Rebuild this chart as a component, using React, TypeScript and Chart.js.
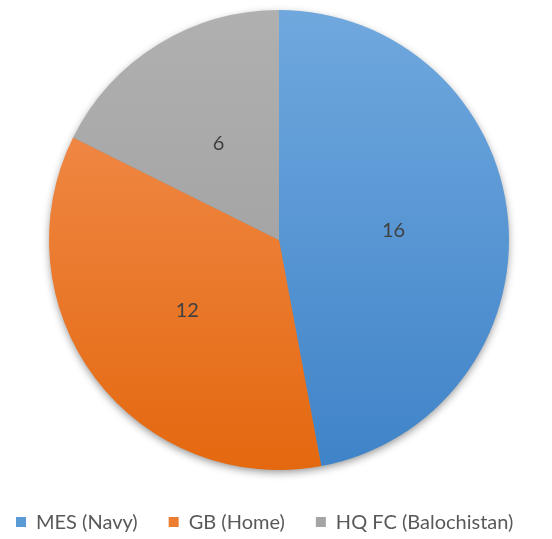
import React, { useEffect, useRef } from "react";
import { Chart, registerables } from "chart.js";

Chart.register(...registerables);

const categories = ["MES (Navy)", "GB (Home)", "HQ FC (Balochistan)"];
const values = [16, 12, 6];
const topColors = ["#70a8de", "#f39256", "#b0b0b0"];
const bottomColors = ["#3f83c8", "#e4680f", "#9a9a9a"];
const legendColors = ["#5b9bd5", "#ed7d31", "#a5a5a5"];

const FONT = "Lato, 'Open Sans', sans-serif";

export default function App() {
  const ref = useRef<HTMLCanvasElement | null>(null);
  useEffect(() => {
    document.body.style.margin = "0";
    const canvas = ref.current!;
    const shadowPlugin = {
      id: "pieShadow",
      beforeDatasetsDraw(chart: any) {
        const arc = chart.getDatasetMeta(0).data[0];
        if (!arc) return;
        const ctx = chart.ctx;
        ctx.save();
        ctx.shadowColor = "rgba(0,0,0,0.45)";
        ctx.shadowBlur = 8;
        ctx.shadowOffsetY = 3;
        ctx.beginPath();
        ctx.arc(arc.x, arc.y, arc.outerRadius - 1, 0, Math.PI * 2);
        ctx.fillStyle = "#888";
        ctx.fill();
        ctx.restore();
      },
    };
    const labelPlugin = {
      id: "valueLabels",
      afterDatasetsDraw(chart: any) {
        const ctx = chart.ctx;
        const meta = chart.getDatasetMeta(0);
        ctx.save();
        ctx.font = `20px ${FONT}`;
        ctx.fillStyle = "#404040";
        ctx.textAlign = "center";
        ctx.textBaseline = "middle";
        meta.data.forEach((arc: any, i: number) => {
          const p = arc.getCenterPoint();
          ctx.fillText(String(values[i]), p.x, p.y + 1);
        });
        ctx.restore();
      },
    };
    const legendPlugin = {
      id: "customLegend",
      afterDraw(chart: any) {
        const ctx = chart.ctx;
        ctx.save();
        ctx.font = `20px ${FONT}`;
        ctx.textBaseline = "middle";
        const y = 522;
        const box = 10;
        const gapBoxText = 10;
        const gapItems = 31;
        const widths = categories.map((c) => box + gapBoxText + ctx.measureText(c).width);
        let x = 16;
        categories.forEach((c, i) => {
          ctx.fillStyle = legendColors[i];
          ctx.fillRect(x, y - box / 2, box, box);
          ctx.fillStyle = "#595959";
          ctx.fillText(c, x + box + gapBoxText, y + 1);
          x += widths[i] + gapItems;
        });
        ctx.restore();
      },
    };
    const chart = new Chart(canvas, {
      type: "pie",
      data: {
        labels: categories,
        datasets: [
          {
            data: values,
            borderWidth: 0,
            backgroundColor: (c: any) => {
              const area = c.chart.chartArea;
              if (!area) return legendColors[c.dataIndex];
              const g = c.chart.ctx.createLinearGradient(0, area.top, 0, area.bottom);
              g.addColorStop(0, topColors[c.dataIndex]);
              g.addColorStop(1, bottomColors[c.dataIndex]);
              return g;
            },
          },
        ],
      },
      options: {
        responsive: false,
        animation: false,
        layout: { padding: { top: 10, bottom: 69, left: 49, right: 43 } },
        plugins: {
          legend: { display: false },
          tooltip: { enabled: false },
        },
      },
      plugins: [shadowPlugin, labelPlugin, legendPlugin],
    });
    return () => chart.destroy();
  }, []);
  return (
    <div style={{ position: "absolute", left: 0, top: 0, width: 552, height: 539, background: "#fff" }}>
      <canvas ref={ref} width={552} height={539} />
    </div>
  );
}
